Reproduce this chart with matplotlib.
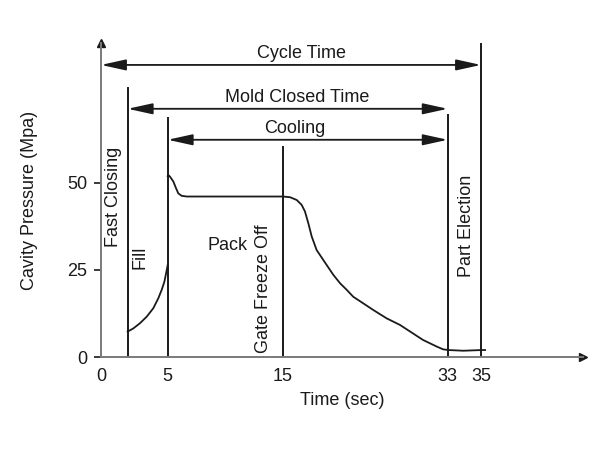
import numpy as np
import matplotlib
matplotlib.use("Agg")
import matplotlib.pyplot as plt

plt.rcParams['font.family'] = ['Liberation Sans', 'DejaVu Sans']

# schematic (non-linear) time axis: data seconds -> drawn position
knots_sec = [0, 5, 15, 33, 35, 41]
knots_pos = [0, 66.7, 182, 346.7, 380, 482]

# cavity pressure curve
fill_t = [2.0, 2.42, 2.92, 3.43, 3.92, 4.30, 4.55, 4.75, 4.93, 5.0]
fill_p = [7.3, 8.2, 9.7, 11.6, 14.0, 16.9, 19.3, 21.6, 25.0, 26.4]
pack_t = [5.0, 5.05, 5.2, 5.49, 5.72, 5.92, 6.21, 6.65, 10, 15, 15.77, 16.5, 17.04,
          17.4, 17.77, 18.14, 18.68, 19.04, 19.78, 20.5, 21.23, 21.96, 22.68, 23.78,
          24.87, 26.33, 27.79, 28.9, 30.3, 31.8, 32.5, 33.05, 33.94, 35.04, 35.24]
pack_p = [52.0, 52.3, 51.8, 50.4, 48.5, 47.0, 46.3, 46.1, 46.1, 46.1, 45.9, 45.1, 43.7,
          41.8, 38.4, 34.6, 30.7, 29.3, 26.4, 23.6, 21.2, 19.3, 17.3, 15.4,
          13.5, 11.1, 9.2, 7.3, 4.9, 3.0, 2.2, 2.0, 1.8, 2.0, 2.0]

# event lines: time, top pressure
event_t = [2, 5, 15, 33, 35]
event_top = [77.3, 68.7, 60.3, 69.5, 90]

# span arrows: label, start, end, height, label x
spans = [("Cycle Time", 0, 35, 83.9, 17),
         ("Mold Closed Time", 2, 33, 71.3, 16.6),
         ("Cooling", 5, 33, 62.4, 16.3)]

xticks = [0, 5, 15, 33, 35]
yticks = [0, 25, 50]


def fwd(x):
    return np.interp(x, knots_sec, knots_pos)


def inv(p):
    return np.interp(p, knots_pos, knots_sec)


fig = plt.figure(figsize=(6, 4.5), dpi=100)
ax = fig.add_axes([101 / 600, 93 / 450, 482 / 600, 314 / 450])
ax.set_xscale('function', functions=(fwd, inv))
ax.set_xlim(0, 41)
ax.set_ylim(0, 90.2)

ink = '#1a1a1a'
fs = 13
ax.plot(fill_t, fill_p, color=ink, lw=1.3)
ax.plot(pack_t, pack_p, color=ink, lw=1.3)
for t, top in zip(event_t, event_top):
    ax.plot([t, t], [0, top], color=ink, lw=1.4)

for label, a, b, h, lx in spans:
    ax.annotate('', xy=(b, h), xytext=(a, h),
                arrowprops=dict(arrowstyle='<|-|>,head_length=1.0,head_width=0.22',
                                color=ink, lw=1.3, mutation_scale=15,
                                shrinkA=0, shrinkB=0))
    ax.text(lx, h + 3.3, label, ha='center', va='center', fontsize=fs, color=ink)

ax.text(0.9, 46, "Fast Closing", rotation=90, ha='center', va='center', fontsize=fs, color=ink)
ax.text(2.9, 28.5, "Fill", rotation=90, ha='center', va='center', fontsize=fs, color=ink)
ax.text(10.2, 31.9, "Pack", ha='center', va='center', fontsize=fs, color=ink)
ax.text(13.3, 19.5, "Gate Freeze Off", rotation=90, ha='center', va='center', fontsize=fs, color=ink)
ax.text(34.1, 37.6, "Part Election", rotation=90, ha='center', va='center', fontsize=fs, color=ink)

# axes with arrow ends
for s in ['top', 'right']:
    ax.spines[s].set_visible(False)
for s in ['left', 'bottom']:
    ax.spines[s].set_color('#7a7a7a')
    ax.spines[s].set_linewidth(1.4)
ax.plot(1, 0, '>', color=ink, ms=6, transform=ax.transAxes, clip_on=False)
ax.plot(0, 1, '^', color=ink, ms=6, transform=ax.transAxes, clip_on=False)

ax.set_xticks(xticks)
ax.set_xticklabels([str(v) for v in xticks])
ax.set_yticks(yticks)
ax.set_yticklabels([str(v) for v in yticks])
ax.tick_params(axis='x', length=0, pad=8, labelsize=fs, colors=ink)
ax.tick_params(axis='y', length=5, width=1.2, pad=5, labelsize=fs, colors=ink)
ax.xaxis.set_minor_locator(plt.NullLocator())

ax.set_xlabel("Time (sec)", fontsize=fs, color=ink, labelpad=5)
ax.set_ylabel("Cavity Pressure (Mpa)", fontsize=fs, color=ink, labelpad=21)

fig.savefig("out.png", dpi=100, facecolor='white')
